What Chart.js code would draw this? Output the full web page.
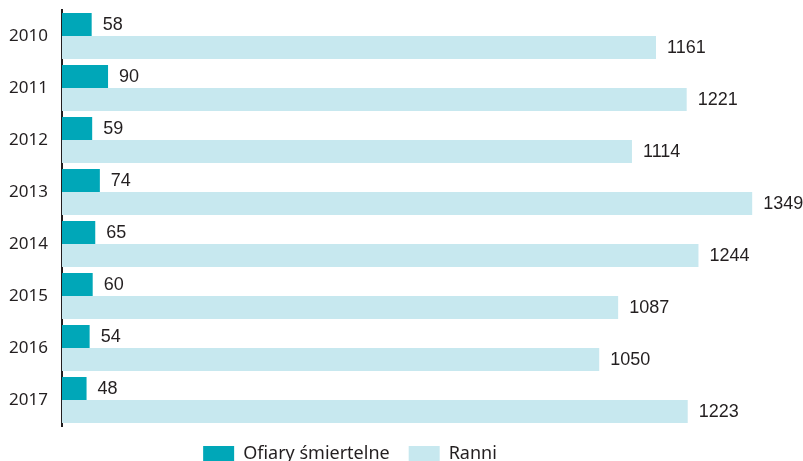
<!DOCTYPE html>
<html lang="pl">
  <head>
    <meta charset="UTF-8" />
    <title>Ofiary i ranni</title>
    <script src="https://cdn.jsdelivr.net/npm/chart.js"></script>
    <style>
      html, body { margin: 0; padding: 0; overflow: hidden; background: #fff; }
    </style>
  </head>
  <body>
    <canvas id="myChart" width="803" height="473"></canvas>

    <script>
      const years = ["2010", "2011", "2012", "2013", "2014", "2015", "2016", "2017"];
      const deaths = [58, 90, 59, 74, 65, 60, 54, 48]; // ofiary śmiertelne
      const injured = [1161, 1221, 1114, 1349, 1244, 1087, 1050, 1223]; // ranni

      // liczby przy końcach słupków
      const valueLabels = {
        id: "valueLabels",
        afterDatasetsDraw(chart) {
          const ctx = chart.ctx;
          ctx.save();
          ctx.font = '18px "Liberation Sans", sans-serif';
          ctx.fillStyle = "#231f20";
          ctx.textAlign = "left";
          ctx.textBaseline = "middle";
          chart.data.datasets.forEach((ds, i) => {
            chart.getDatasetMeta(i).data.forEach((bar, j) => {
              ctx.fillText(ds.data[j], bar.x + 11, bar.y + 1);
            });
          });
          ctx.restore();
        },
      };

      const data = {
        labels: years,
        datasets: [
          {
            label: "Ofiary śmiertelne",
            data: deaths,
            backgroundColor: "#00a7b8",
            barPercentage: 1,
            categoryPercentage: 0.885,
            clip: false,
          },
          {
            label: "Ranni",
            data: injured,
            backgroundColor: "#c7e8ef",
            barPercentage: 1,
            categoryPercentage: 0.885,
            clip: false,
          },
        ],
      };

      const config = {
        type: "bar",
        data: data,
        options: {
          indexAxis: "y",
          responsive: false,
          animation: false,
          // prawy margines przesuwa legendę w lewo, słupki mogą wyjść poza obszar
          layout: { padding: { top: 10, right: 103, left: 0, bottom: 0 } },
          plugins: {
            tooltip: { enabled: false },
            legend: {
              position: "bottom",
              labels: {
                boxWidth: 31,
                boxHeight: 16,
                padding: 19,
                color: "#231f20",
                font: { family: '"Noto Sans", sans-serif', size: 18 },
              },
            },
          },
          scales: {
            x: {
              display: false,
              min: 0,
              max: 1247,
            },
            y: {
              afterFit(scale) {
                scale.width = 62;
                scale.paddingTop = 0;
                scale.paddingBottom = 0;
              },
              grid: { display: false, drawTicks: false },
              border: { display: true, color: "#231f20", width: 2 },
              ticks: {
                padding: 14,
                color: "#231f20",
                font: { family: '"Noto Sans", sans-serif', size: 17 },
              },
            },
          },
        },
        plugins: [valueLabels],
      };

      const myChart = new Chart(document.getElementById("myChart"), config);
    </script>
  </body>
</html>
